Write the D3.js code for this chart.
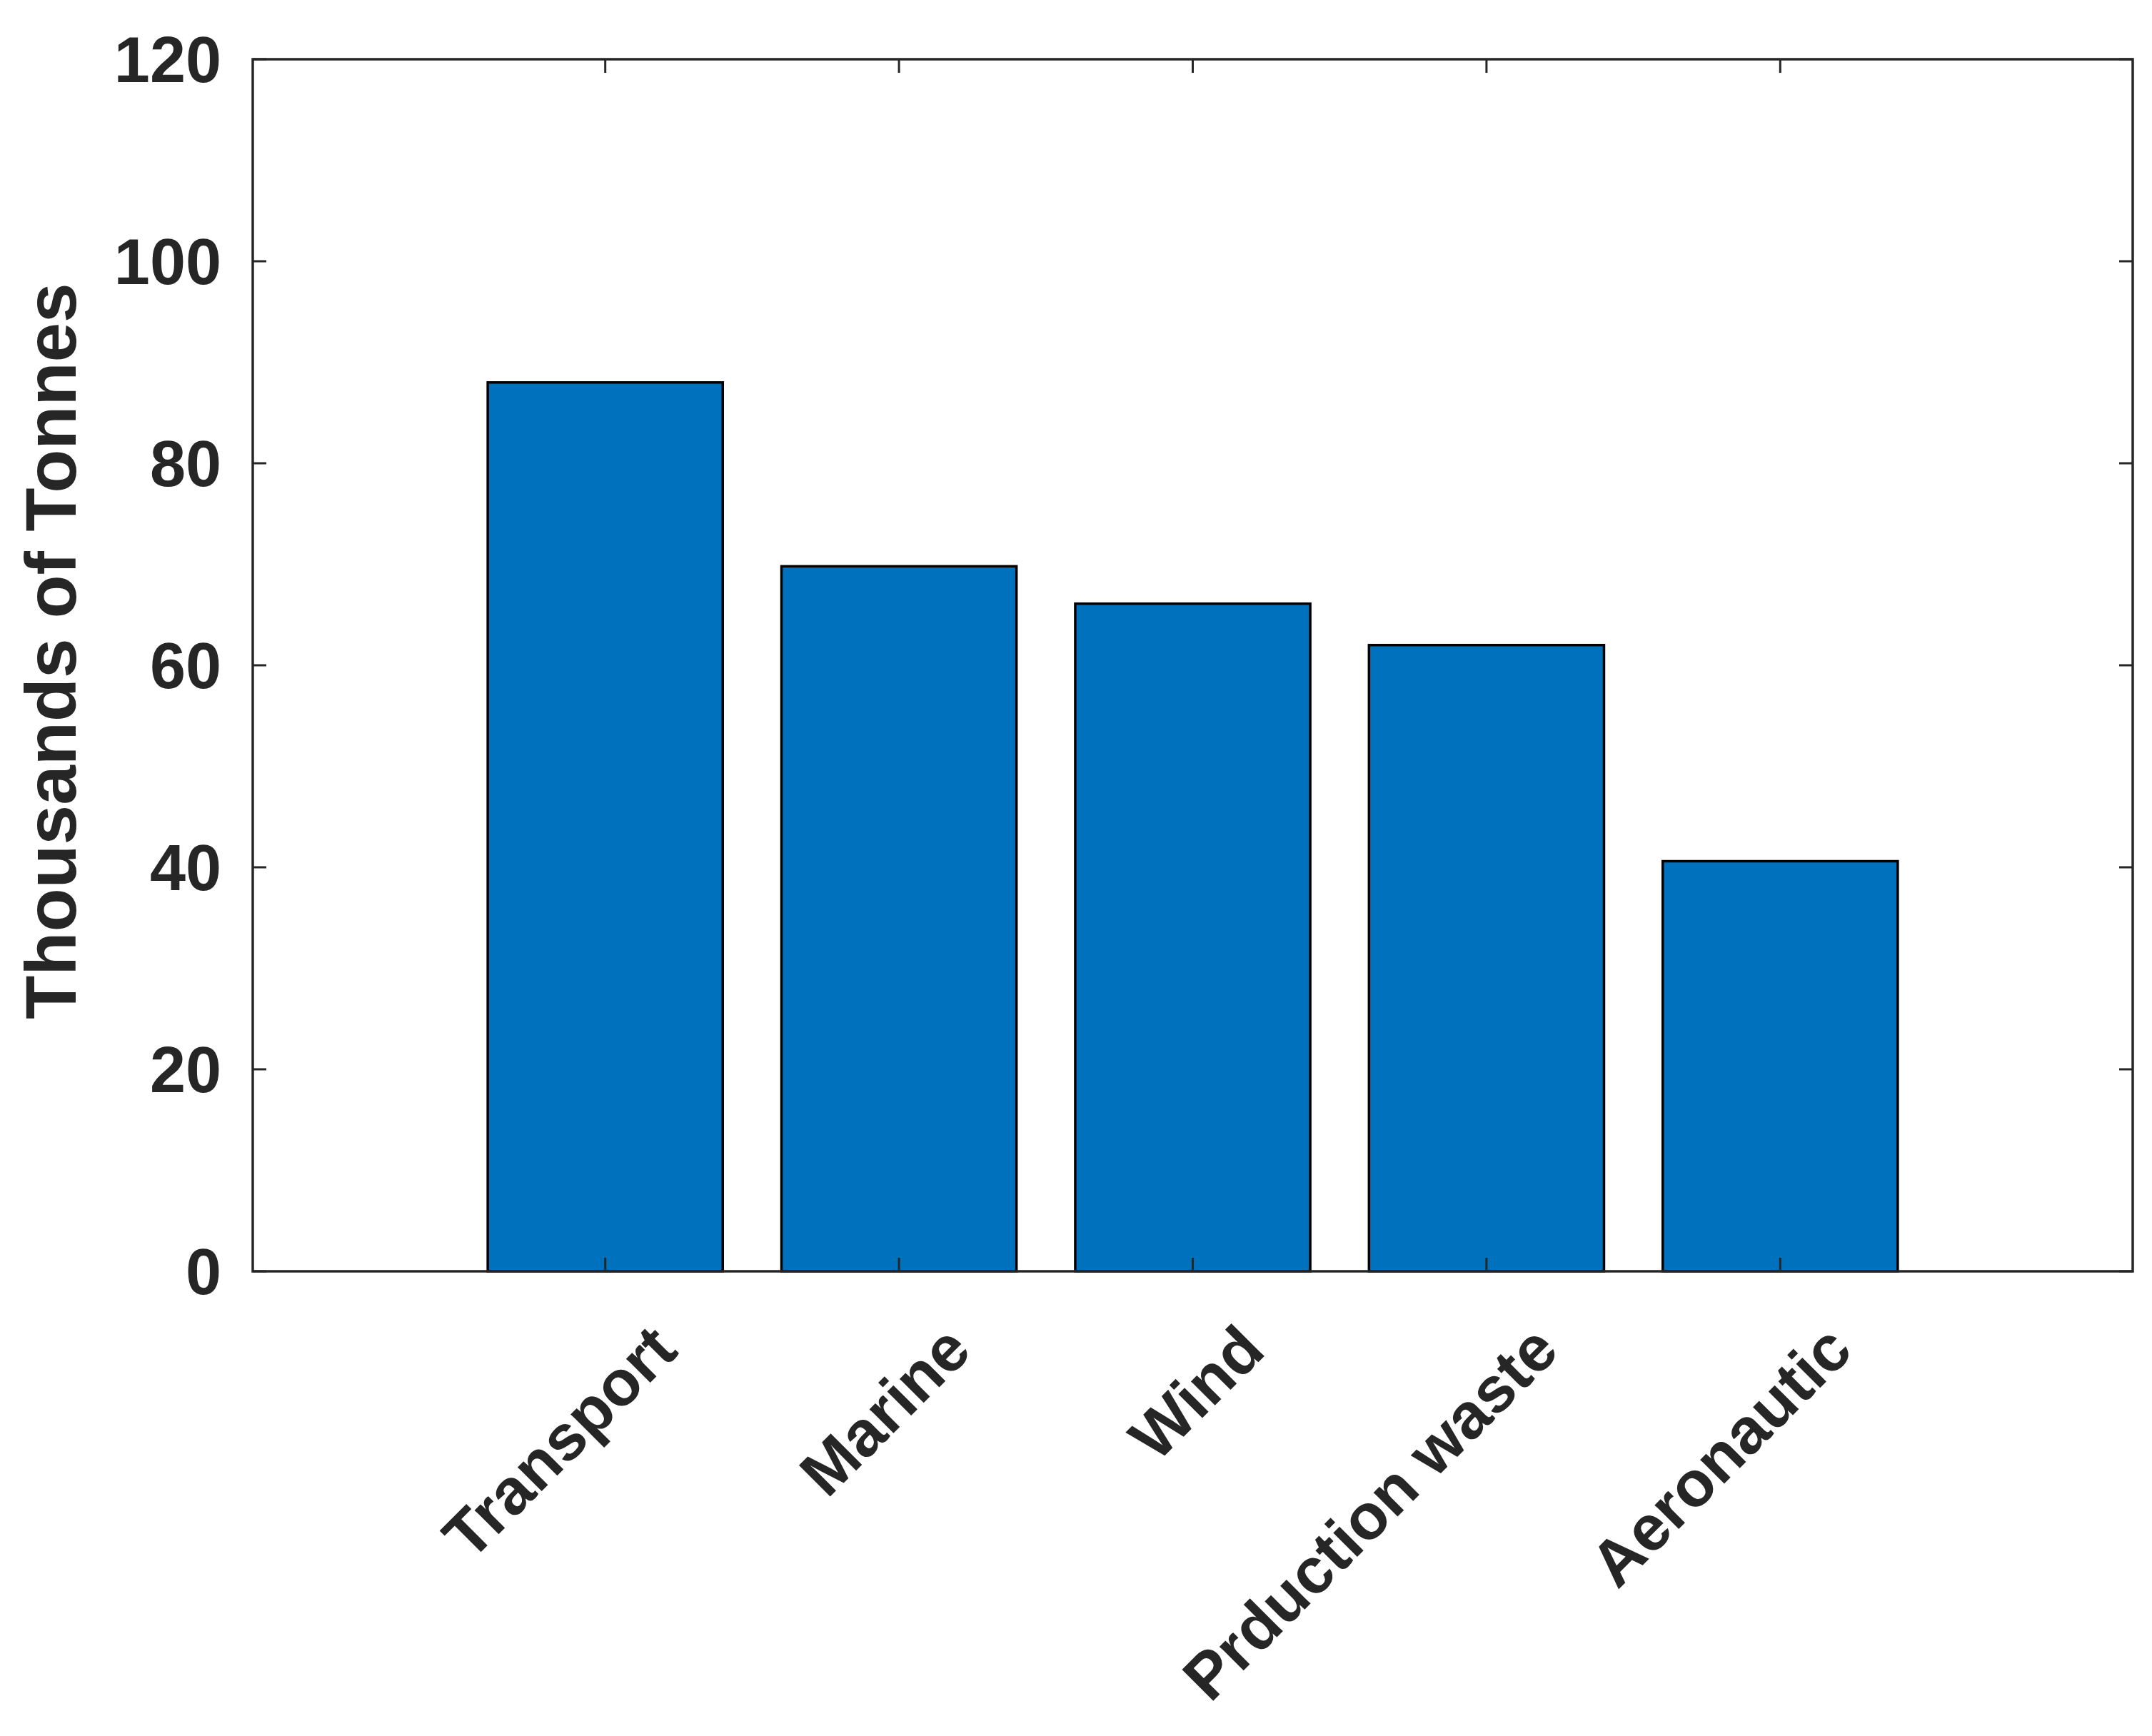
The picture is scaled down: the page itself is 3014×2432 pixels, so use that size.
<!DOCTYPE html>
<html>
<head>
<meta charset="utf-8">
<script src="https://cdn.jsdelivr.net/npm/d3@7"></script>
<style>
  body { margin:0; background:#fff; }
  text { font-family:"Liberation Sans", Arial, sans-serif; font-weight:bold; fill:#262626; }
</style>
</head>
<body>
<svg id="chart" width="3014" height="2432"></svg>
<script>
var categories = ["Transport","Marine","Wind","Prduction waste","Aeronautic"],
    values = [88, 69.8, 66.1, 62, 40.6],
    yTicks = [0,20,40,60,80,100,120];

var margin = {top:83, left:354, right:27, bottom:651},
    W = 3014, H = 2432,
    svg = d3.select("#chart"),
    tickLen = 19, ink = "#262626";

var x = d3.scaleLinear().domain([-0.2, 6.2]).range([margin.left, W-margin.right]),
    y = d3.scaleLinear().domain([0,120]).range([H-margin.bottom, margin.top]);

// bars
svg.selectAll("rect.bar").data(values).enter().append("rect")
  .attr("class","bar")
  .attr("x", function(d,i){ return x(i+1-0.4) })
  .attr("width", x(0.8)-x(0))
  .attr("y", function(d){ return y(d) })
  .attr("height", function(d){ return y(0)-y(d) })
  .attr("fill","#0072bd").attr("stroke","#000").attr("stroke-width",3.5);

// inward ticks on all four sides
var g = svg.append("g").attr("stroke", ink).attr("stroke-width",3);
yTicks.forEach(function(t){
  g.append("line").attr("x1",x.range()[0]).attr("x2",x.range()[0]+tickLen).attr("y1",y(t)).attr("y2",y(t));
  g.append("line").attr("x1",x.range()[1]).attr("x2",x.range()[1]-tickLen).attr("y1",y(t)).attr("y2",y(t));
});
categories.forEach(function(c,i){
  g.append("line").attr("x1",x(i+1)).attr("x2",x(i+1)).attr("y1",y(0)).attr("y2",y(0)-tickLen);
  g.append("line").attr("x1",x(i+1)).attr("x2",x(i+1)).attr("y1",y(120)).attr("y2",y(120)+tickLen);
});

// box
svg.append("rect")
  .attr("x",x.range()[0]).attr("y",y(120))
  .attr("width",x.range()[1]-x.range()[0]).attr("height",y(0)-y(120))
  .attr("fill","none").attr("stroke",ink).attr("stroke-width",3.5);

// y tick labels
svg.selectAll("text.ytick").data(yTicks).enter().append("text")
  .attr("class","ytick")
  .attr("x", x.range()[0]-44).attr("y", function(d){ return y(d) })
  .attr("dy","0.36em").attr("text-anchor","end")
  .style("font-size","90px")
  .text(function(d){ return d });

// x tick labels, rotated
svg.selectAll("text.xtick").data(categories).enter().append("text")
  .attr("class","xtick")
  .attr("transform", function(d,i){ return "translate(" + (x(i+1)+60) + "," + (y(0)+70) + ") rotate(-45)" })
  .attr("text-anchor","end").attr("dy","0.7em")
  .style("font-size","90px")
  .text(function(d){ return d });

// y label
svg.append("text")
  .attr("transform","translate(70," + ((y(0)+y(120))/2 - 20) + ") rotate(-90)")
  .attr("text-anchor","middle").attr("dy","0.36em")
  .style("font-size","100px")
  .text("Thousands of Tonnes");
</script>
</body>
</html>
